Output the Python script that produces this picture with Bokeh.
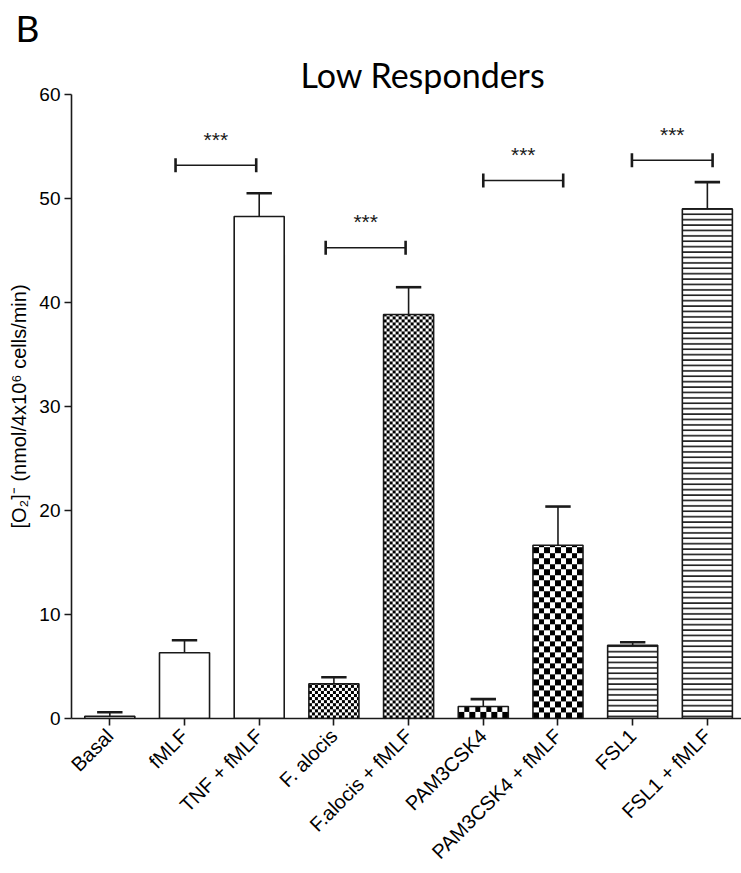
import numpy as np

from bokeh.core.properties import value
from bokeh.embed import file_html
from bokeh.models import ColumnDataSource, FixedTicker, Range1d, Title
from bokeh.plotting import figure
from bokeh.resources import INLINE

# ---- data ----
categories = ["Basal", "fMLF", "TNF + fMLF", "F. alocis", "F.alocis + fMLF",
              "PAM3CSK4", "PAM3CSK4 + fMLF", "FSL1", "FSL1 + fMLF"]
means = [0.22, 6.32, 48.27, 3.33, 38.85, 1.15, 16.66, 7.05, 49.0]
sems = [0.38, 1.21, 2.23, 0.64, 2.62, 0.71, 3.72, 0.28, 2.57]
fill_kind = ["open", "open", "open", "fine", "fine", "coarse", "coarse", "lines", "lines"]

# significance brackets (x in category index units, y in data units)
bracket_left = [0.88, 2.89, 5.00, 6.99]
bracket_right = [1.96, 3.96, 6.07, 8.07]
bracket_y = [53.2, 45.26, 51.73, 53.68]
bracket_text = ["***", "***", "***", "***"]

y_ticks = [0, 10, 20, 30, 40, 50, 60]

FONT = "Liberation Sans"
INK = "#1a1a1a"

X0, X1 = -0.513, 8.457
Y0, Y1 = 0, 60
FRAME_W, FRAME_H = 670, 624
px_x = FRAME_W / (X1 - X0)     # screen pixels per category unit
px_y = FRAME_H / (Y1 - Y0)     # screen pixels per data unit

xs = list(range(len(categories)))
bar_w = 0.67
cap_half = 0.17

p = figure(width=741, height=873, title=None,
           x_range=Range1d(X0, X1), y_range=Range1d(Y0, Y1),
           output_backend="svg", toolbar_location=None,
           min_border_left=71, min_border_right=0,
           min_border_top=94, min_border_bottom=155)
p.outline_line_color = None
p.xgrid.visible = False
p.ygrid.visible = False
p.background_fill_color = "white"
p.border_fill_color = "white"


def checker_rgba(height_px, width_px, cell):
    """Black/white checkerboard raster sized to a bar, in pixels."""
    yy, xx = np.mgrid[0:height_px, 0:width_px]
    dark = ((np.floor(xx / cell) + np.floor(yy / cell)) % 2) == 0
    img = np.empty((height_px, width_px, 4), dtype=np.uint8)
    img[..., :3] = np.where(dark, 0, 255)[..., None]
    img[..., 3] = 255
    return img.view(dtype=np.uint32).reshape(height_px, width_px)


checker_cell = {"fine": 3.0, "coarse": 5.5}

# checkerboard fills
for i, kind in enumerate(fill_kind):
    if kind in checker_cell:
        h = max(1, int(round(means[i] * px_y)))
        w = int(round(bar_w * px_x))
        p.image_rgba(image=[checker_rgba(h, w, checker_cell[kind])],
                     x=xs[i] - bar_w / 2, y=0, dw=bar_w, dh=means[i])

# bar bodies / outlines
for kind in ["open", "fine", "coarse", "lines"]:
    idx = [i for i, k in enumerate(fill_kind) if k == kind]
    src = ColumnDataSource(dict(x=[xs[i] for i in idx], top=[means[i] for i in idx]))
    kw = dict(x="x", top="top", bottom=0, width=bar_w, source=src,
              line_color=INK, line_width=1.6)
    if kind in checker_cell:
        kw.update(fill_color=None)
    elif kind == "lines":
        kw.update(fill_color="white", hatch_pattern="horizontal_line", hatch_scale=5.4,
                  hatch_weight=1.6, hatch_color=INK)
    else:
        kw.update(fill_color="white")
    p.vbar(**kw)

# upper error bars
err = ColumnDataSource(dict(
    x=xs, y0=means, y1=[m + s for m, s in zip(means, sems)],
    xl=[x - cap_half for x in xs], xr=[x + cap_half for x in xs]))
p.segment(x0="x", y0="y0", x1="x", y1="y1", source=err, line_color=INK, line_width=1.6)
p.segment(x0="xl", y0="y1", x1="xr", y1="y1", source=err, line_color=INK, line_width=2.6)

# significance brackets
br = ColumnDataSource(dict(
    xl=bracket_left, xr=bracket_right, y=bracket_y,
    ylo=[y - 0.67 for y in bracket_y], yhi=[y + 0.67 for y in bracket_y],
    xm=[(a + b) / 2 for a, b in zip(bracket_left, bracket_right)],
    ys=[y + 2.5 for y in bracket_y], t=bracket_text))
p.segment(x0="xl", y0="y", x1="xr", y1="y", source=br, line_color=INK, line_width=1.6)
p.segment(x0="xl", y0="ylo", x1="xl", y1="yhi", source=br, line_color=INK, line_width=2.6)
p.segment(x0="xr", y0="ylo", x1="xr", y1="yhi", source=br, line_color=INK, line_width=2.6)
p.text(x="xm", y="ys", text="t", source=br, text_align="center", text_baseline="middle",
       text_font=value(FONT), text_font_size="21px", text_color=INK)

# axes
p.xaxis.ticker = FixedTicker(ticks=xs)
p.xaxis.major_label_overrides = {i: c for i, c in enumerate(categories)}
p.xaxis.major_label_orientation = 0.785398
p.xaxis.minor_tick_line_color = None
p.yaxis.ticker = FixedTicker(ticks=y_ticks)
p.yaxis.minor_tick_line_color = None
for ax in (p.xaxis, p.yaxis):
    ax.axis_line_width = 1.6
    ax.axis_line_color = INK
    ax.major_tick_line_width = 1.6
    ax.major_tick_line_color = INK
    ax.major_tick_out = 7
    ax.major_tick_in = 0
    ax.major_label_text_font = FONT
    ax.major_label_text_color = "black"
p.xaxis.major_label_text_font_size = "20px"
p.xaxis.major_label_text_line_height = 0.8
p.yaxis.major_label_text_font_size = "19px"
p.xaxis.major_label_standoff = 7
p.yaxis.major_label_standoff = 4

p.yaxis.axis_label = "[O\u2082]\u207b (nmol/4x10\u2076 cells/min)"
p.yaxis.axis_label_text_font = FONT
p.yaxis.axis_label_text_font_size = "20px"
p.yaxis.axis_label_text_font_style = "normal"
p.yaxis.axis_label_text_color = "black"
p.yaxis.axis_label_standoff = 6

# heading and panel letter, stacked above the frame
p.add_layout(Title(text="Low Responders", align="left", offset=229, standoff=0,
                   text_font="Lato", text_font_size="34px", text_font_style="normal",
                   text_color="black"), "above")
p.add_layout(Title(text="B", align="left", offset=-56, standoff=3,
                   text_font="Lato", text_font_size="37px", text_font_style="normal",
                   text_color="black"), "above")

open("out.html", "w").write(file_html(p, INLINE))
